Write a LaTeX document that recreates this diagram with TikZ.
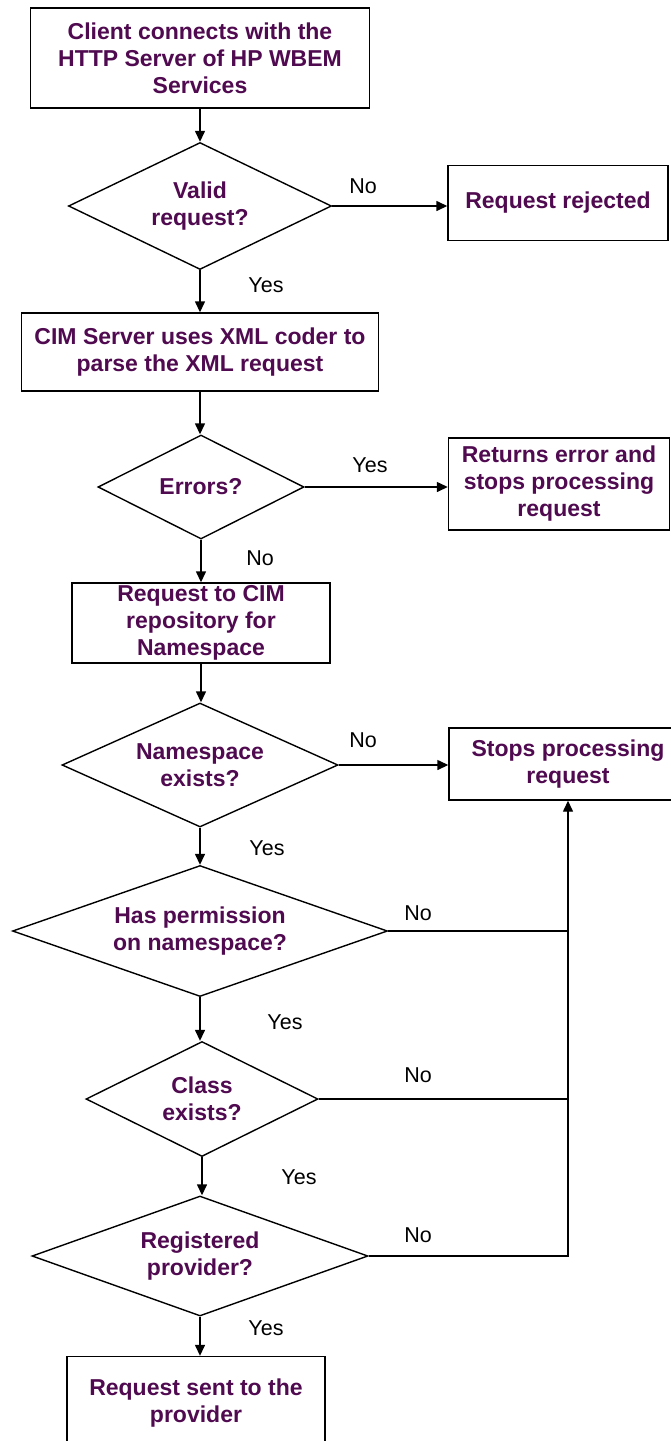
\documentclass[tikz,border=0pt]{standalone}
\usepackage{fontspec}
\setmainfont{Liberation Sans}
\usetikzlibrary{shapes.geometric,arrows.meta}
\definecolor{boxtext}{RGB}{80,10,80}
\begin{document}
\begin{tikzpicture}[x=1pt,y=-1pt,
  box/.style={draw,line width=1.4pt,inner sep=0pt,align=center,text=boxtext,
    font=\bfseries\fontsize{23}{27}\selectfont},
  decision/.style={box,shape=diamond,aspect=3},
  lbl/.style={font=\fontsize{21.5}{25}\selectfont},
  flow/.style={line width=1.4pt,-{Triangle[length=11pt,width=10pt]}},
  wire/.style={line width=1.4pt}]
\fill[white] (0,0) rectangle (671,1441);
\clip (0,0) rectangle (671,1441);

% main column
\node[box,minimum width=339pt,minimum height=100pt] (client) at (200,58) {Client connects with the\\HTTP Server of HP WBEM\\Services};
\node[decision,minimum width=263pt,minimum height=127pt] (valid) at (200,206) {Valid\\request?};
\node[box,minimum width=357pt,minimum height=78pt] (parse) at (200,352) {CIM Server uses XML coder to\\parse the XML request};
\node[decision,minimum width=206pt,minimum height=104pt] (errors) at (201,487) {Errors?};
\node[box,minimum width=258pt,minimum height=80pt] (repo) at (201,623) {Request to CIM\\repository for\\Namespace};
\node[decision,minimum width=276pt,minimum height=124pt] (nsexists) at (200,765) {Namespace\\exists?};
\node[decision,minimum width=375pt,minimum height=131pt] (perm) at (200,931) {Has permission\\on namespace?};
\node[decision,minimum width=232pt,minimum height=115pt] (class) at (202,1099) {Class\\exists?};
\node[decision,minimum width=336pt,minimum height=120pt] (registered) at (200,1256) {Registered\\provider?};
\node[box,minimum width=258pt,minimum height=93pt] (sent) at (196,1403) {Request sent to the\\provider};

% right column
\node[box,minimum width=220pt,minimum height=75pt] (rejected) at (558,203) {Request rejected};
\node[box,minimum width=221pt,minimum height=92pt] (returns) at (559,484) {Returns error and\\stops processing\\request};
\node[box,minimum width=238pt,minimum height=72pt] (stops) at (568,764) {Stops processing\\request};

% down the column
\draw[flow] (client.south) -- (client.south |- valid.north);
\draw[flow] (valid.south) -- (valid.south |- parse.north);
\draw[flow] (parse.south) -- (parse.south |- errors.north);
\draw[flow] (errors.south) -- (errors.south |- repo.north);
\draw[flow] (repo.south) -- (repo.south |- nsexists.north);
\draw[flow] (nsexists.south) -- (nsexists.south |- perm.north);
\draw[flow] (perm.south) -- (perm.south |- class.north);
\draw[flow] (class.south) -- (class.south |- registered.north);
\draw[flow] (registered.south) -- (registered.south |- sent.north);

% branches to the right
\draw[flow] (valid.east) -- (valid.east -| rejected.west);
\draw[flow] (errors.east) -- (errors.east -| returns.west);
\draw[flow] (nsexists.east) -- (nsexists.east -| stops.west);
\draw[wire] (perm.east) -- (perm.east -| stops.south);
\draw[wire] (class.east) -- (class.east -| stops.south);
\draw[flow] (registered.east) -| (stops.south);

% labels
\node[lbl] (l1) at (363,186) {No};
\node[lbl] (l2) at (266,285) {Yes};
\node[lbl] (l3) at (370,465) {Yes};
\node[lbl] (l4) at (260,558) {No};
\node[lbl] (l5) at (363,740) {No};
\node[lbl] (l6) at (267,848) {Yes};
\node[lbl] (l7) at (418,913) {No};
\node[lbl] (l8) at (285,1022) {Yes};
\node[lbl] (l9) at (418,1075) {No};
\node[lbl] (l10) at (299,1177) {Yes};
\node[lbl] (l11) at (418,1235) {No};
\node[lbl] (l12) at (266,1328) {Yes};
\end{tikzpicture}
\end{document}
